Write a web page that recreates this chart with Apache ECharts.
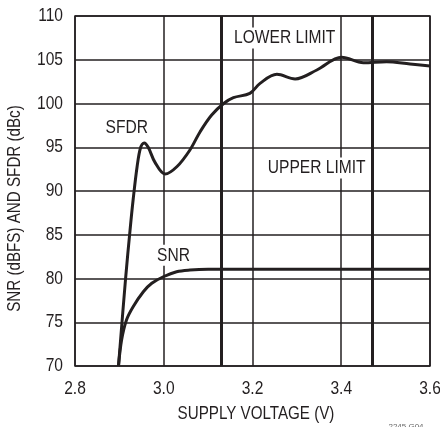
<!DOCTYPE html>
<html><head><meta charset="utf-8">
<script src="https://cdn.jsdelivr.net/npm/echarts@6/dist/echarts.min.js"></script>
<style>html,body{margin:0;padding:0;background:#fff}#c{width:440px;height:427px}</style>
</head><body><div id="c"></div>
<script>
var xTicks = [2.8, 3.0, 3.2, 3.4, 3.6];
var yTicks = [70, 75, 80, 85, 90, 95, 100, 105, 110];
var sfdrV = [2.898, 2.914, 2.924, 2.931, 2.940, 2.948, 2.956, 2.965, 2.980, 3.003, 3.030, 3.059, 3.082, 3.108, 3.135, 3.157, 3.194, 3.217, 3.255, 3.296, 3.345, 3.401, 3.450, 3.502, 3.555, 3.600];
var sfdrDb = [70, 80, 85.5, 89, 92.8, 95, 95.5, 95, 93.3, 91.94, 92.8, 94.69, 96.78, 98.69, 100, 100.67, 101.16, 102.3, 103.33, 102.8, 103.83, 105.28, 104.66, 104.78, 104.51, 104.29];
var snrV = [2.898, 2.905, 2.916, 2.931, 2.954, 2.973, 2.999, 3.029, 3.059, 3.100, 3.200, 3.300, 3.400, 3.500, 3.600];
var snrDb = [70, 72.97, 75.26, 76.78, 78.49, 79.45, 80.2, 80.78, 80.97, 81.05, 81.05, 81.05, 81.05, 81.05, 81.05];
var limitV = [3.135, 3.47];
var labels = [
  {text: 'SFDR', v: 2.9165, db: 97.17},
  {text: 'SNR', v: 3.022, db: 82.65},
  {text: 'LOWER LIMIT', v: 3.2726, db: 107.49},
  {text: 'UPPER LIMIT', v: 3.3447, db: 92.63}
];
var FONT = '"Liberation Sans", Arial, sans-serif';
var INK = '#231f20';
var SX = 0.82;

function zip(a, b) { return a.map(function (v, i) { return [v, b[i]]; }); }

var chart = echarts.init(document.getElementById('c'), null, {renderer: 'canvas'});
chart.setOption({
  animation: false,
  grid: {left: 75, top: 16, right: 10, bottom: 61, outerBoundsMode: 'none', containLabel: false,
    show: true, borderColor: INK, borderWidth: 1.5, backgroundColor: 'transparent'},
  xAxis: {
    type: 'value', min: xTicks[0], max: xTicks[xTicks.length - 1], interval: 0.2,
    axisLine: {show: false}, axisTick: {show: false}, axisLabel: {show: false},
    splitLine: {show: true, lineStyle: {color: INK, width: 1.5}}
  },
  yAxis: {
    type: 'value', min: yTicks[0], max: yTicks[yTicks.length - 1], interval: 5,
    axisLine: {show: false}, axisTick: {show: false}, axisLabel: {show: false},
    splitLine: {show: true, lineStyle: {color: INK, width: 1.5}}
  },
  series: [
    {type: 'line', data: zip(sfdrV, sfdrDb), smooth: 0.35, showSymbol: false, symbol: 'none', lineStyle: {color: INK, width: 3}, z: 5},
    {type: 'line', data: zip(snrV, snrDb), smooth: 0.35, showSymbol: false, symbol: 'none', lineStyle: {color: INK, width: 3}, z: 5},
    {type: 'line', data: [], symbol: 'none', z: 4,
      markLine: {silent: true, symbol: 'none', label: {show: false},
        lineStyle: {color: INK, width: 3, type: 'solid'},
        data: limitV.map(function (v) { return {xAxis: v}; })}}
  ]
});

function txt(s, x, y, size, align, vAlign, rot, extra) {
  var st = {text: s, fill: INK, font: size + 'px ' + FONT, align: align, verticalAlign: vAlign};
  if (extra) for (var k in extra) st[k] = extra[k];
  return {type: 'text', x: x, y: y, rotation: rot || 0, scaleX: SX, z: 10, style: st};
}

var g = [];
xTicks.forEach(function (v) {
  var p = chart.convertToPixel({gridIndex: 0}, [v, yTicks[0]]);
  g.push(txt(v.toFixed(1), p[0], p[1] + 22.5, 19, 'center', 'middle'));
});
yTicks.forEach(function (v) {
  var p = chart.convertToPixel({gridIndex: 0}, [xTicks[0], v]);
  g.push(txt(String(v), p[0] - 12, p[1], 19, 'right', 'middle'));
});
labels.forEach(function (l) {
  var p = chart.convertToPixel({gridIndex: 0}, [l.v, l.db]);
  g.push(txt(l.text, p[0], p[1], 19, 'center', 'middle', 0, {backgroundColor: '#fff', padding: [1, 3]}));
});
g.push(txt('SNR (dBFS) AND SFDR (dBc)', 15, 208.5, 18.5, 'center', 'middle', Math.PI / 2));
g.push(txt('SUPPLY VOLTAGE (V)', 256, 414, 18.5, 'center', 'middle'));
g.push({type: 'text', x: 406, y: 423, style: {text: '2245 G04', fill: '#666', font: '8px ' + FONT, align: 'center', verticalAlign: 'top'}});
chart.setOption({graphic: g});
</script></body></html>
